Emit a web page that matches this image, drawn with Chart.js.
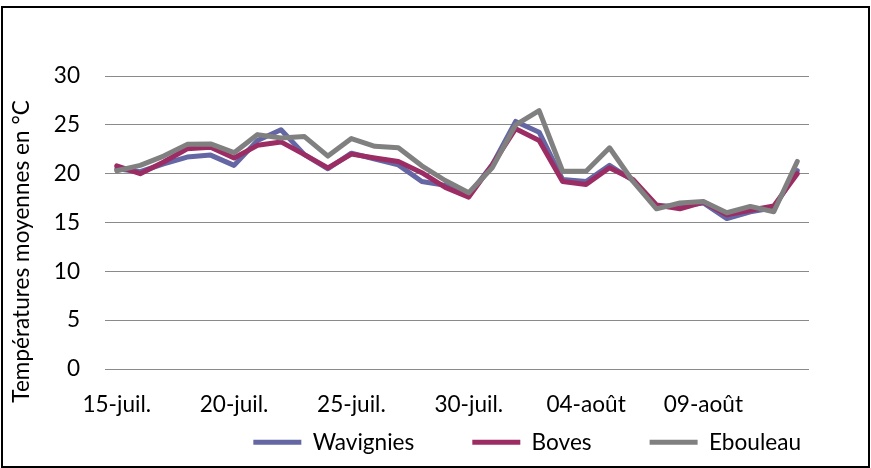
<!doctype html>
<html>
  <head>
    <script src="https://cdnjs.cloudflare.com/ajax/libs/Chart.js/4.4.1/chart.umd.js"></script>
    <style>
      body { margin: 0; background: #fff; }
      #wrap { position: relative; width: 871px; height: 468px; }
      #frame { position: absolute; left: 1px; top: 6px; width: 865px; height: 458px; border: 2px solid #000; pointer-events: none; }
    </style>
    <script>
      let days = ["15-juil.", "16-juil.", "17-juil.", "18-juil.", "19-juil.", "20-juil.", "21-juil.", "22-juil.", "23-juil.", "24-juil.",
                  "25-juil.", "26-juil.", "27-juil.", "28-juil.", "29-juil.", "30-juil.", "31-juil.", "01-août", "02-août", "03-août",
                  "04-août", "05-août", "06-août", "07-août", "08-août", "09-août", "10-août", "11-août", "12-août", "13-août"];
      let wavignies = [20.5, 20.2, 21.0, 21.7, 21.9, 20.85, 23.4, 24.5, 21.95, 20.5, 22.1, 21.5, 20.9, 19.2, 18.8,
                       17.8, 20.9, 25.35, 24.25, 19.4, 19.2, 20.85, 19.3, 16.7, 16.7, 17.0, 15.4, 16.1, 16.5, 20.3];
      let boves = [20.8, 20.0, 21.2, 22.55, 22.7, 21.6, 22.9, 23.25, 21.95, 20.6, 22.0, 21.6, 21.25, 20.1, 18.6,
                   17.6, 20.9, 24.6, 23.4, 19.2, 18.9, 20.6, 19.4, 16.8, 16.4, 17.1, 15.8, 16.25, 16.7, 20.0];
      let ebouleau = [20.3, 20.85, 21.8, 23.0, 23.05, 22.15, 24.0, 23.65, 23.8, 21.8, 23.6, 22.8, 22.65, 20.8, 19.3,
                      18.05, 20.6, 25.0, 26.45, 20.25, 20.25, 22.65, 19.2, 16.4, 17.0, 17.15, 16.0, 16.65, 16.1, 21.25];
      let yTicks = [0, 5, 10, 15, 20, 25, 30];

      let chart1;
      function line(name, values, color, order) {
        return {
          label: name, data: values, borderColor: color, backgroundColor: color,
          borderWidth: 5, pointRadius: 0, tension: 0, order: order,
          borderJoinStyle: 'round', borderCapStyle: 'round'
        };
      }
      // legend: small fixed height for the layout, then its top is pulled up
      // so the wide item gaps (label padding) don't push it off the canvas
      let legendFix = {
        id: 'legendFix',
        beforeInit(chart) {
          let lg = chart.legend, fit = lg.fit;
          lg.fit = function () { fit.call(this); this.height = 39; };
        },
        afterLayout(chart) {
          chart.legend.top -= 56;
        }
      };
      function startPage() {
        Chart.defaults.font.family = "Lato";
        Chart.defaults.font.size = 22.6;
        Chart.defaults.color = "#000";
        chart1 = new Chart(document.getElementById("c1"), {
          type: 'line',
          data: {
            labels: days,
            datasets: [
              line('Wavignies', wavignies, '#6467a3', 2),
              line('Boves', boves, '#9c2d64', 1),
              line('Ebouleau', ebouleau, '#808080', 0)
            ]
          },
          plugins: [legendFix],
          options: {
            responsive: false,
            animation: false,
            layout: { padding: { left: 8, right: 12, top: 76, bottom: 0 } },
            plugins: {
              tooltip: { enabled: false },
              legend: {
                position: 'bottom', align: 'end',
                labels: {
                  usePointStyle: true, pointStyle: 'line', pointStyleWidth: 48,
                  padding: 58,
                  sort: (a, b) => a.datasetIndex - b.datasetIndex
                }
              }
            },
            scales: {
              x: {
                offset: true,
                afterFit: s => { s.height = 60; },
                grid: { display: false, drawTicks: false },
                border: { display: false },
                ticks: {
                  autoSkip: false, maxRotation: 0, padding: 22,
                  callback: (v, i) => (i % 5 == 0 ? days[i] : '')
                }
              },
              y: {
                min: 0, max: 30,
                afterBuildTicks: s => { s.ticks = yTicks.map(v => ({ value: v })); },
                afterFit: s => { s.width = 97; },
                grid: { color: '#8a8a8a', lineWidth: 1, drawTicks: false },
                border: { display: false },
                ticks: { padding: 25 },
                // trailing no-break spaces push the centred title a bit lower, as in the original
                title: { display: true, text: 'Températures moyennes en °C' + '\u00a0'.repeat(10), padding: 0 }
              },
              y2: {
                type: 'linear', position: 'right',
                afterFit: s => { s.width = 50; },
                grid: { display: false, drawTicks: false },
                border: { display: false },
                ticks: { display: false }
              }
            }
          }
        });
      }
    </script>
  </head>
  <body onload="startPage()">
    <div id="wrap">
      <canvas id="c1" width="871" height="468"></canvas>
      <div id="frame"></div>
    </div>
  </body>
</html>
